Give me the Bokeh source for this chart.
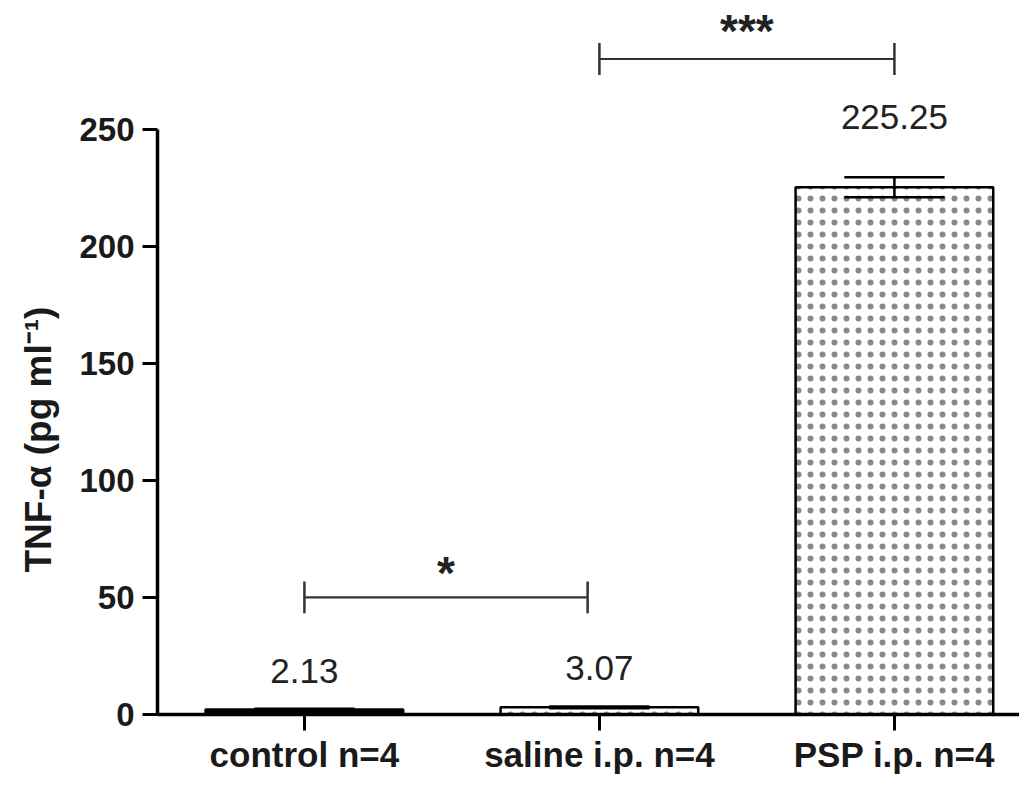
from bokeh.plotting import figure
from bokeh.models import ColumnDataSource, FixedTicker, Range1d, Title
from bokeh.core.properties import value
from bokeh.embed import file_html
from bokeh.resources import INLINE

# ---- data ----
categories = ["control n=4", "saline i.p. n=4", "PSP i.p. n=4"]
means = [2.13, 3.07, 225.25]
sems = [0.3, 0.4, 4.25]
value_labels = ["2.13", "3.07", "225.25"]
# significance brackets
sig_x0 = [0.0, 1.0]
sig_x1 = [0.96, 2.0]
sig_y = [50.0, 280.0]
sig_text = ["*", "***"]
y_ticks = [0, 50, 100, 150, 200, 250]
y_label = "TNF-α (pg ml⁻¹)"

# ---- styling ----
FONT = "Liberation Sans"
label_offsets = [-38, -38, -60]
sig_offsets = [-50, -54]
bar_fill = ["black", "white", "white"]
bar_hatch = [" ", "dot", "dot"]

xs = list(range(len(categories)))

p = figure(width=1019, height=776, output_backend="svg", toolbar_location=None,
           x_range=Range1d(-0.498, 2.424), y_range=Range1d(0, 305),
           min_border_left=157, min_border_right=0, min_border_top=0,
           min_border_bottom=50)
p.outline_line_color = None
p.xgrid.visible = False
p.ygrid.visible = False

src = ColumnDataSource(dict(x=xs, top=means, fill=bar_fill, hatch=bar_hatch,
                            lo=[m - s for m, s in zip(means, sems)],
                            hi=[m + s for m, s in zip(means, sems)],
                            lab=value_labels, off=label_offsets))

p.vbar(x="x", top="top", bottom=0, width=0.67, source=src,
       fill_color="fill", line_color="black", line_width=2.5,
       hatch_pattern="hatch", hatch_color="#888888", hatch_scale=12,
       hatch_weight=0.7)

# error bars
p.segment(x0="x", x1="x", y0="lo", y1="hi", source=src, line_color="black", line_width=2.5)
cap = 0.17
p.segment(x0=[x - cap for x in xs], x1=[x + cap for x in xs], y0=src.data["hi"], y1=src.data["hi"],
          line_color="black", line_width=2.5)
p.segment(x0=[x - cap for x in xs], x1=[x + cap for x in xs], y0=src.data["lo"], y1=src.data["lo"],
          line_color="black", line_width=2.5)

# value labels
p.text(x="x", y="hi", text="lab", source=src, y_offset="off",
       text_font=value(FONT), text_font_size="35px", text_align="center",
       text_baseline="middle", text_color="#222222")

# significance brackets
tick_h = 6.8
for x0, x1, y, t, off in zip(sig_x0, sig_x1, sig_y, sig_text, sig_offsets):
    p.line([x0, x1], [y, y], line_color="#333333", line_width=2.2)
    p.line([x0, x0], [y - tick_h, y + tick_h], line_color="#333333", line_width=2.5)
    p.line([x1, x1], [y - tick_h, y + tick_h], line_color="#333333", line_width=2.5)
    p.text(x=[(x0 + x1) / 2], y=[y], text=[t], y_offset=off,
           text_font=value(FONT), text_font_style="bold", text_font_size="46px",
           text_align="center", text_baseline="top", text_color="#222222")

# axes
p.xaxis.ticker = FixedTicker(ticks=xs)
p.xaxis.major_label_overrides = {i: c for i, c in enumerate(categories)}
p.xaxis.minor_tick_line_color = None
p.xaxis.major_tick_in = 0
p.xaxis.major_tick_out = 16
p.xaxis.major_tick_line_width = 3
p.xaxis.axis_line_width = 3.5
p.xaxis.major_label_standoff = 4
p.xaxis.major_label_text_font = FONT
p.xaxis.major_label_text_font_style = "bold"
p.xaxis.major_label_text_font_size = "35px"
p.xaxis.major_label_text_color = "#1a1a1a"

p.yaxis.ticker = FixedTicker(ticks=y_ticks)
p.yaxis.bounds = (0, 250)
p.yaxis.minor_tick_line_color = None
p.yaxis.major_tick_in = 0
p.yaxis.major_tick_out = 15
p.yaxis.major_tick_line_width = 3
p.yaxis.axis_line_width = 3.5
p.yaxis.major_label_standoff = 8
p.yaxis.major_label_text_font = FONT
p.yaxis.major_label_text_font_style = "bold"
p.yaxis.major_label_text_font_size = "33px"
p.yaxis.major_label_text_color = "#1a1a1a"

# y axis title, placed along the drawn part of the axis (0..250) as in the reference
p.add_layout(Title(text=y_label, align="left", vertical_align="top", offset=142, standoff=32,
                   text_font=FONT, text_font_style="bold", text_font_size="37px",
                   text_color="#1a1a1a"), "left")

open("out.html", "w").write(file_html(p, INLINE))
